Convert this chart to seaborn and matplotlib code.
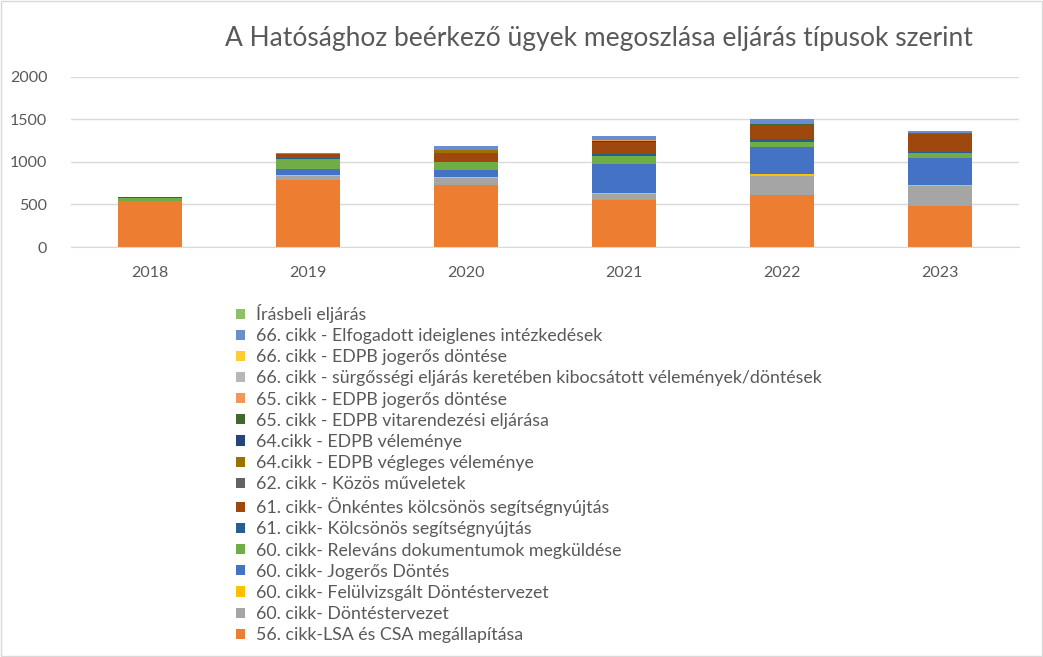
import matplotlib
matplotlib.use("Agg")
import matplotlib.pyplot as plt
from matplotlib.patches import Patch, Rectangle
import pandas as pd
import seaborn as sns

# adatok
evek = ["2018", "2019", "2020", "2021", "2022", "2023"]

sorozatok = [
    "Írásbeli eljárás",
    "66. cikk - Elfogadott ideiglenes intézkedések",
    "66. cikk - EDPB jogerős döntése",
    "66. cikk - sürgősségi eljárás keretében kibocsátott vélemények/döntések",
    "65. cikk - EDPB jogerős döntése",
    "65. cikk - EDPB vitarendezési eljárása",
    "64.cikk - EDPB véleménye",
    "64.cikk - EDPB végleges véleménye",
    "62. cikk - Közös műveletek",
    "61. cikk- Önkéntes kölcsönös segítségnyújtás",
    "61. cikk- Kölcsönös segítségnyújtás",
    "60. cikk- Releváns dokumentumok megküldése",
    "60. cikk- Jogerős Döntés",
    "60. cikk- Felülvizsgált Döntéstervezet",
    "60. cikk- Döntéstervezet",
    "56. cikk-LSA és CSA megállapítása",
]

irasbeli = [0, 0, 0, 0, 0, 0]
ideiglenes_66 = [0, 12, 47, 43, 59, 24]
edpb_jogeros_66 = [0, 0, 0, 0, 0, 0]
surgossegi_66 = [0, 0, 0, 0, 0, 0]
edpb_jogeros_65 = [0, 0, 0, 12, 0, 0]
vitarendezesi_65 = [0, 0, 0, 0, 12, 0]
velemeny_64 = [0, 0, 0, 12, 0, 0]
vegleges_64 = [0, 0, 35, 0, 0, 0]
kozos_62 = [0, 0, 0, 0, 0, 6]
onkentes_61 = [0, 47, 106, 136, 165, 214]
kolcsonos_61 = [12, 12, 0, 24, 35, 15]
relevans_60 = [30, 117, 94, 102, 59, 59]
jogeros_60 = [0, 71, 82, 338, 313, 314]
felulvizsgalt_60 = [0, 8, 9, 12, 28, 12]
dontestervezet_60 = [0, 50, 85, 70, 223, 238]
lsa_56 = [545, 785, 726, 553, 608, 479]

ertekek = [irasbeli, ideiglenes_66, edpb_jogeros_66, surgossegi_66,
           edpb_jogeros_65, vitarendezesi_65, velemeny_64, vegleges_64,
           kozos_62, onkentes_61, kolcsonos_61, relevans_60, jogeros_60,
           felulvizsgalt_60, dontestervezet_60, lsa_56]

szinek = ["#8CC168", "#698ED0", "#FFCD33", "#B7B7B7", "#F1975A", "#43682B",
          "#264478", "#997300", "#636363", "#9E480E", "#255E91", "#70AD47",
          "#4472C4", "#FFC000", "#A5A5A5", "#ED7D31"]

rows = []
for nev, vals in zip(sorozatok, ertekek):
    for ev, v in zip(evek, vals):
        rows.append({"ev": ev, "sorozat": nev, "db": v})
df = pd.DataFrame(rows)

sns.set_style("white")
plt.rcParams["font.family"] = ["Lato", "DejaVu Sans"]

fig = plt.figure(figsize=(10.43, 6.57), dpi=100)
ax = fig.add_axes([0.068, 0.624, 0.909, 0.259])

# az utolso hue szint kerul alulra
sns.histplot(data=df, x="ev", weights="db", hue="sorozat",
             hue_order=sorozatok, palette=dict(zip(sorozatok, szinek)),
             multiple="stack", discrete=True, shrink=0.41,
             linewidth=0, alpha=1, legend=False, ax=ax)

ax.set_ylim(0, 2000)
ax.set_yticks([0, 500, 1000, 1500, 2000])
ax.set_xlim(-0.5, 5.5)
ax.yaxis.grid(True, color="#D9D9D9", linewidth=1)
ax.set_axisbelow(True)
for s in ["top", "right", "left"]:
    ax.spines[s].set_visible(False)
ax.spines["bottom"].set_color("#D9D9D9")
ax.tick_params(axis="both", length=0, labelsize=11.5, colors="#595959")
ax.tick_params(axis="y", pad=17)
ax.tick_params(axis="x", pad=14)
ax.set_xlabel("")
ax.set_ylabel("")

fig.text(0.574, 0.942, "A Hatósághoz beérkező ügyek megoszlása eljárás típusok szerint",
         ha="center", va="center", fontsize=19, color="#595959")

handles = [Patch(facecolor=c, edgecolor="none") for c in szinek]
fig.legend(handles, sorozatok, loc="upper left", bbox_to_anchor=(0.218, 0.551),
           frameon=False, fontsize=12.8, labelcolor="#595959",
           handlelength=0.5, handleheight=0.5, handletextpad=0.6,
           labelspacing=0.29, borderpad=0)

fig.patches.append(Rectangle((0.001, 0.001), 0.998, 0.998, transform=fig.transFigure,
                             fill=False, edgecolor="#D9D9D9", linewidth=1))

fig.savefig("out.png", dpi=100)
